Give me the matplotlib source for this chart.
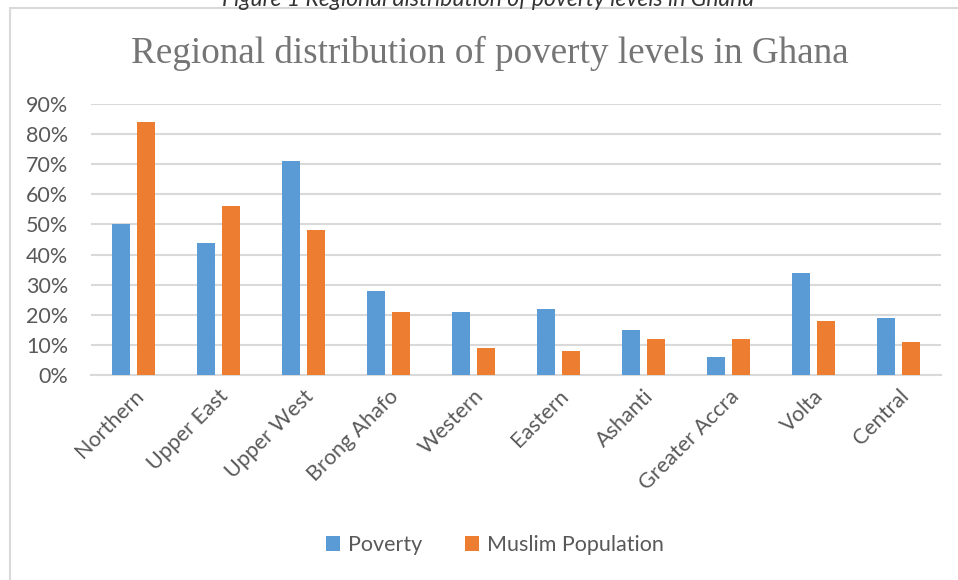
import matplotlib.pyplot as plt
import matplotlib.patches as mpatches
import numpy as np

regions = ['Northern', 'Upper East', 'Upper West', 'Brong Ahafo', 'Western',
           'Eastern', 'Ashanti', 'Greater Accra', 'Volta', 'Central']
poverty = [0.50, 0.44, 0.71, 0.28, 0.21, 0.22, 0.15, 0.06, 0.34, 0.19]
muslim = [0.84, 0.56, 0.48, 0.21, 0.09, 0.08, 0.12, 0.12, 0.18, 0.11]
yticks = [0, 0.1, 0.2, 0.3, 0.4, 0.5, 0.6, 0.7, 0.8, 0.9]

blue = '#5B9BD5'
orange = '#ED7D31'
grey_txt = '#595959'
grid_col = '#d9d9d9'
font = ['Lato', 'DejaVu Sans']

fig = plt.figure(figsize=(9.58, 5.80), dpi=100)
ax = fig.add_axes([91/958, 1-375/580, (941-91)/958, (375-104)/580])

# outer chart frame (runs off the right and bottom edge)
frame = mpatches.Rectangle((10/958, -0.1), 1.2, 1 - 8/580 + 0.1, transform=fig.transFigure,
                           fill=False, edgecolor='#d9d9d9', linewidth=1.5, clip_on=False)
fig.add_artist(frame)

x = np.arange(len(regions))
w = 0.22
off = 0.147
ax.bar(x - off, poverty, w, color=blue, label='Poverty', zorder=3)
ax.bar(x + off, muslim, w, color=orange, label='Muslim Population', zorder=3)

ax.set_xlim(-0.5, len(regions) - 0.5)
ax.set_ylim(0, 0.9)
ax.set_yticks(yticks)
ax.set_yticklabels([f'{int(round(v*100))}%' for v in yticks], family=font,
                   fontsize=15.5, color=grey_txt)
ax.set_xticks(x)
ax.set_xticklabels(regions, rotation=45, ha='right', rotation_mode='anchor',
                   family=font, fontsize=15.5, color=grey_txt)
ax.tick_params(length=0)
ax.tick_params(axis='y', pad=16.5)
ax.tick_params(axis='x', pad=8)
ax.grid(axis='y', color=grid_col, linewidth=1.5, zorder=0)
for s in ['top', 'right', 'left']:
    ax.spines[s].set_visible(False)
ax.spines['bottom'].set_color(grid_col)
ax.spines['bottom'].set_linewidth(1.5)

fig.text(490/958, 1 - 53/580, 'Regional distribution of poverty levels in Ghana',
         ha='center', va='center', family='Liberation Serif', fontsize=26.7, color='#757575')
fig.text(488/958, 1 - 6/580, 'Figure 1 Regional distribution of poverty levels in Ghana',
         ha='center', va='baseline', family=font, style='italic', fontsize=16.5, color='#333333')

fig.legend(loc='center', bbox_to_anchor=(495/958, 1 - 545/580), ncol=2, frameon=False,
           prop={'family': font, 'size': 15.5}, labelcolor=grey_txt, handlelength=0.65,
           handleheight=0.65, handletextpad=0.35, columnspacing=2.0)

fig.savefig('out.png', dpi=100)
